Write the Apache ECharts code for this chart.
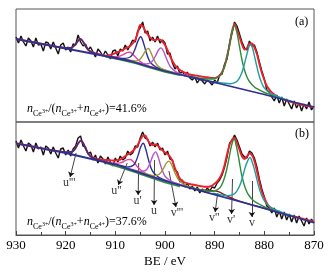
<!DOCTYPE html>
<html>
<head>
<meta charset="utf-8">
<script src="https://cdn.jsdelivr.net/npm/echarts@6/dist/echarts.min.js"></script>
<style>
  html, body { margin: 0; padding: 0; background: #fff; }
  #chart { width: 328px; height: 273px; }
</style>
</head>
<body>
<div id="chart"></div>
<script>
// binding energy grid of the measured spectra, 930 -> 870 eV, 0.5 eV step
const beGrid = []
for (let i = 0; i <= 120; i++) beGrid.push(930 - i * 0.5)

const xTicks = [930, 920, 910, 900, 890, 880, 870]

// panel (a): measured counts and fitted envelope (arbitrary units)
const dataA = [
  85, 79, 86, 80, 76, 84, 81, 75, 84, 77,
  78, 71, 80, 79, 73, 80, 74, 68, 77, 79,
  72, 75, 70, 78, 77, 87, 80, 76, 78, 72,
  75, 70, 65, 73, 70, 66, 71, 67, 63, 71,
  72, 66, 73, 71, 77, 72, 77, 82, 80, 91,
  94, 100, 89, 91, 81, 85, 80, 86, 79, 82,
  79, 68, 69, 59, 53, 56, 48, 51, 46, 50,
  44, 42, 45, 39, 43, 41, 38, 42, 40, 37,
  42, 39, 47, 48, 58, 63, 79, 89, 100, 96,
  88, 80, 74, 72, 81, 76, 77, 70, 60, 51,
  43, 32, 30, 25, 21, 27, 19, 25, 16, 23,
  18, 13, 21, 14, 19, 11, 18, 13, 20, 12,
  16
]
const fitA = [
  83, 82.5, 82, 81.6, 81.1, 80.6, 80.2, 79.7, 79.2, 78.7,
  78.3, 77.8, 77.3, 76.8, 76.4, 75.9, 75.4, 75, 74.8, 74.3,
  74.1, 74, 74.2, 75.3, 77.8, 81.2, 83, 80.3, 75.9, 72.4,
  70.6, 69.5, 68.7, 68, 67.4, 66.8, 66.3, 66.6, 67.2, 68,
  69, 70, 71, 72.2, 73.5, 74.7, 76, 78.5, 82, 89,
  97, 96, 91.5, 87.5, 84.5, 82.3, 81.8, 82.8, 82.5, 80.5,
  77, 72, 66, 61, 57, 54, 52, 50.5, 49.3, 48.3,
  47.5, 47, 46.6, 46.2, 45.8, 45.3, 45, 44.7, 44.3, 44,
  43.8, 44.8, 46.5, 50, 56, 66, 77, 91, 98, 92,
  85, 77.5, 72.5, 74, 78.5, 78.5, 74.5, 68, 58, 49,
  42, 36, 32.5, 29.5, 27.5, 25.8, 24.5, 23.3, 22.3, 21.4,
  20.6, 19.8, 19.1, 18.5, 17.9, 17.3, 16.8, 16.2, 15.7, 15.2,
  14.8
]
const bgA = [[930, 83], [920, 73.5], [910, 64], [907, 61], [905, 58], [903, 55], [900, 51],
  [895, 45], [890, 39.5], [885, 33.5], [880, 27.5], [875, 21], [870, 15]]
const bg2A = [[912, 65.3], [909, 62.2], [906, 58.8], [903, 54.2], [900, 50], [897, 46.8]]
const u3A = [[921, 74.8], [920, 74.1], [919, 74.2], [918.5, 75.3], [918, 77.8], [917.5, 81.2], [917, 83],
  [916.5, 80.3], [916, 75.9], [915.5, 72.4], [915, 70.4], [914, 68.4], [913, 67.2]]
const u2A = [[913, 67.1], [911, 65.6], [910, 65.2], [909, 66.1], [908.5, 67.2], [908, 68.5], [907.5, 69.6],
  [907.1, 69.7], [906.5, 67.8], [906, 65.2], [905.5, 62.7], [905, 60.6], [904, 57.5], [903, 55.5], [901, 52.6]]
const u1A = [[911, 65.4], [909, 63.9], [908, 63.6], [907, 65], [906.5, 67.9], [906, 73.2], [905.5, 80.4],
  [904.9, 85.3], [904.3, 78.6], [903.8, 69.9], [903.3, 63], [902.8, 58.7], [901.8, 55], [900.8, 53],
  [898.8, 50], [896, 46.4]]
const oliveA = [[908, 62.5], [907, 61.8], [906, 61.1], [905.5, 61.4], [905, 63], [904.5, 66.3], [904, 70.7],
  [903.4, 73.6], [902.8, 68.9], [902.3, 63], [901.8, 58.4], [901.3, 55.4], [900.8, 53.7], [899.8, 51.6],
  [898.8, 50.1], [897, 47.7]]
const uA = [[906.8, 61.2], [904.8, 58.7], [903.8, 58], [902.8, 59.7], [902.3, 62.7], [901.8, 67.2], [901.3, 72],
  [900.8, 74.1], [900.3, 70.7], [899.8, 64.6], [899.3, 58.8], [898.8, 54.5], [897.8, 50.2], [896.8, 48.2],
  [894.8, 45.3]]
const v1A = [[895, 45.7], [893, 43.8], [891, 43], [890, 43.5], [889, 46], [888.5, 49.5], [888, 55.5], [887.5, 65],
  [887, 77.5], [886.5, 90.5], [886, 96], [885.5, 89], [885, 75.5], [884.5, 62], [884, 52], [883.5, 45],
  [883, 40.5], [882, 35], [881, 32], [880, 29.5], [879, 27.8], [877, 24.4]]
const vA = [[890, 40.4], [888, 38.7], [887, 38.3], [886, 39.3], [885.5, 40.7], [885, 44.1], [884.5, 49.7],
  [884, 58.3], [883.5, 68], [883, 76.6], [882.75, 77], [882.5, 76], [882, 66.2], [881.5, 55.3], [881, 45.5],
  [880.5, 38.7], [880, 34.1], [879, 29.2], [878, 26.8], [876, 23.2], [874, 20.2]]

// panel (b)
const dataB = [
  94, 87, 95, 89, 84, 92, 90, 83, 92, 86,
  88, 80, 89, 87, 81, 88, 82, 77, 86, 87,
  80, 85, 79, 86, 89, 97, 99, 89, 88, 81,
  83, 75, 80, 72, 79, 76, 71, 78, 73, 69,
  77, 73, 79, 75, 77, 84, 80, 82, 89, 88,
  97, 103, 97, 96, 89, 93, 88, 92, 85, 87,
  80, 84, 76, 75, 65, 63, 53, 55, 48, 52,
  46, 49, 44, 48, 42, 46, 43, 47, 44, 48,
  47, 52, 55, 60, 68, 78, 92, 94, 100, 95,
  88, 81, 78, 77, 84, 82, 77, 68, 56, 46,
  38, 29, 27, 22, 27, 18, 24, 16, 23, 15,
  21, 13, 20, 12, 19, 14, 9, 17, 11, 16,
  12
]
const fitB = [
  91.7, 91.2, 90.7, 90.3, 89.8, 89.3, 88.8, 88.3, 87.8, 87.3,
  86.8, 86.4, 85.9, 85.4, 84.9, 84.5, 84.2, 83.9, 83.5, 83.1,
  82.8, 82.7, 83, 84, 87, 91.5, 94.3, 92.3, 86.7, 82,
  79, 77.6, 76.7, 76, 75.5, 75.2, 75, 74.8, 74.7, 74.5,
  74.5, 75, 75.5, 77, 79, 80.5, 82, 84, 86.5, 90,
  95, 99, 99.5, 95, 91.5, 90, 90.5, 89.5, 87, 84.5,
  82.5, 81, 78.5, 74, 67, 61, 56.5, 54, 52.5, 51.7,
  51, 50.5, 50, 49.5, 49, 48.6, 48.3, 48.3, 48.5, 49.5,
  51.5, 53.5, 57, 62, 70, 81, 90, 95.5, 97, 92,
  85, 78.5, 76, 78.5, 81.5, 80, 74, 64, 53, 43,
  37, 32, 28.5, 26.7, 25, 23.7, 22.5, 21.7, 21, 20.4,
  19.8, 19.2, 18.6, 18, 17.3, 16.6, 15.9, 15.2, 14.6, 14,
  13.3
]
const bgB = [[930, 91.7], [920, 82], [910, 70.5], [907, 65.5], [905, 62.2], [903, 58.9], [900, 54],
  [895, 47.2], [890, 40.4], [885, 33.5], [880, 26.6], [875, 19.5], [870, 12.3]]
const bg2B = [[912, 72], [909, 67.6], [906, 62.7], [903, 57.5], [900, 52.5], [897, 48.5]]
const u3B = [[921, 83.6], [920, 82.8], [919, 83], [918.5, 83.9], [918, 86.7], [917.5, 91.3], [916.9, 94.4],
  [916.5, 92.1], [916, 86.4], [915.5, 81.6], [915, 78.4], [914, 76], [913, 74.5], [911, 72]]
const u2B = [[913, 74.3], [911, 72.1], [910, 71.8], [909, 72.1], [908.5, 73], [908, 74.3], [907.5, 75.4],
  [907, 75.5], [906.5, 73.8], [906, 71], [905.5, 68], [905, 65.5], [904, 61.9], [903, 59.5], [901, 56]]
const u1B = [[910, 71], [908.5, 69], [907.4, 68], [906.4, 69.6], [905.9, 73.2], [905.4, 79.9], [904.9, 87.9],
  [904.4, 91.7], [903.9, 86.3], [903.4, 76.6], [902.9, 68.2], [902.4, 63], [901.4, 58.2], [900.4, 55.7],
  [898.4, 52.3], [896, 48.9]]
const uB = [[907.9, 67.4], [905.9, 64.6], [904.9, 63.6], [903.9, 64.7], [903.4, 67.7], [902.9, 73.2],
  [902.4, 79.9], [901.9, 83.1], [901.4, 78.3], [900.9, 70], [900.4, 62.8], [899.9, 58.2], [898.9, 54.1],
  [897.9, 52], [895.9, 48.8]]
const v3B = [[905.2, 63], [903.2, 60.2], [902.2, 59.4], [901.2, 60.7], [900.7, 63.4], [900.2, 67.5], [899.7, 72.1],
  [899.2, 73.9], [898.7, 70.7], [898.2, 64.6], [897.7, 59], [897.2, 54.9], [896.2, 50.6], [895.2, 48.5],
  [893.2, 45.2]]
const v2B = [[895, 47.6], [893, 45.3], [892, 44.7], [891, 44.4], [890, 44.1], [889.5, 43.7], [889, 42.8],
  [888, 40.3], [887, 37.8], [886, 35.7], [884, 32.4], [880, 26.7], [877, 22.4]]
const v1B = [[895.1, 47.9], [893.1, 45.6], [891.1, 43.7], [890.1, 44], [889.1, 46.5], [888.6, 50], [888.1, 56],
  [887.6, 65], [887.1, 77], [886.6, 89.5], [886.1, 95.7], [885.6, 88.1], [885.1, 75], [884.6, 61], [884.1, 51],
  [883.6, 44], [883.1, 39.5], [882.1, 34], [881.1, 31], [880.1, 28.5], [879.1, 26.3], [877.1, 23.1]]
const vB = [[890.4, 41.7], [888.4, 39.9], [887.4, 39.4], [886.4, 40.2], [885.9, 41.7], [885.4, 45], [884.9, 49.9],
  [884.4, 57.8], [883.9, 66.6], [883.4, 73.6], [882.9, 77.6], [882.4, 72.2], [881.9, 63.8], [881.4, 53.7],
  [880.9, 44.4], [880.4, 38.1], [879.9, 33.4], [878.9, 28.2], [877.9, 25.6], [875.9, 21.7], [873.9, 18.5]]

// peak assignments in panel (b); arrows run from the peak down to the label
const peakNames = ["u'''", "u''", "u'", "u", "v'''", "v''", "v'", "v"]
const labelBE = [919.3, 909.8, 905.5, 902.2, 897.6, 890.1, 886.7, 882.5]
const labelY = [52, 44, 34, 24, 22, 17, 15, 12]
const arrowLabelEnd = [[919.1, 58], [909.4, 50], [905.4, 40], [902.2, 30], [897.8, 28], [889.9, 23], [886.6, 21], [882.5, 18]]
const arrowPeakEnd = [[917.9, 82], [907.6, 72], [905.3, 72], [902.1, 75], [899.2, 64], [889.4, 42], [886.4, 56], [882.5, 54]]

const ratioA = '41.6%'
const ratioB = '37.6%'

const serif = '"Liberation Serif", "Times New Roman", serif'
const cData = '#111'
const cFit = '#f0202a'
const cNavy = '#2e3192'
const cPink = '#f0409a'
const cOlive = '#9a9a30'
const cPurple = '#b455cc'
const cGreen = '#2e8b3a'
const cTeal = '#1f9e9e'
const cMaroon = '#8b1c1c'

function onGrid(ys) {
  return beGrid.map((x, i) => [x, ys[i]])
}

function curve(data, color, width, idx, smooth) {
  return {
    type: 'line',
    xAxisIndex: idx,
    yAxisIndex: idx,
    data: data,
    symbol: 'none',
    smooth: smooth,
    silent: true,
    lineStyle: { color: color, width: width }
  }
}

function ratioText(val) {
  return '{n|n}{s|Ce}{p|3+}{t|/(}{n|n}{s|Ce}{p|3+}{t|+}{n|n}{s|Ce}{p|4+}{t|)=' + val + '}'
}

const rich = {
  n: { fontFamily: serif, fontStyle: 'italic', fontSize: 12, verticalAlign: 'bottom', padding: [0, 0, 3, 0], color: '#000' },
  t: { fontFamily: serif, fontSize: 12, verticalAlign: 'bottom', padding: [0, 0, 3, 0], color: '#000' },
  s: { fontFamily: serif, fontSize: 8, verticalAlign: 'bottom', padding: [0, 0, 0, 0], color: '#000' },
  p: { fontFamily: serif, fontSize: 6, verticalAlign: 'bottom', padding: [0, 0, 4, 0], color: '#000' }
}

function panelSeries(idx, data, fit, bg, bg2, peaks) {
  const list = [
    curve(onGrid(data), cData, 1.4, idx, false),
    curve(onGrid(fit), cFit, 1.9, idx, 0.3)
  ]
  peaks.forEach(p => list.push(curve(p[0], p[1], 1.4, idx, 0.4)))
  list.push(curve(bg2, cGreen, 1.6, idx, false))
  list.push(curve(bg, cNavy, 1.8, idx, false))
  return list
}

const chart = echarts.init(document.getElementById('chart'), null, { renderer: 'canvas' })

const series = [].concat(
  panelSeries(0, dataA, fitA, bgA, bg2A, [
    [u3A, cNavy], [u2A, cPink], [u1A, cNavy], [oliveA, cOlive], [uA, cPurple], [v1A, cGreen], [vA, cTeal]
  ]),
  panelSeries(1, dataB, fitB, bgB, bg2B, [
    [u3B, cNavy], [u2B, cPink], [u1B, cNavy], [uB, cPurple], [v3B, cOlive], [v2B, cMaroon], [v1B, cGreen], [vB, cTeal]
  ]),
  [{
    type: 'lines',
    coordinateSystem: 'cartesian2d',
    xAxisIndex: 1,
    yAxisIndex: 1,
    silent: true,
    symbol: ['arrow', 'none'],
    symbolSize: [5, 0],
    lineStyle: { color: '#111', width: 0.8, opacity: 1 },
    data: arrowLabelEnd.map((f, i) => ({ coords: [f, arrowPeakEnd[i]] }))
  }, {
    type: 'scatter',
    xAxisIndex: 1,
    yAxisIndex: 1,
    silent: true,
    symbolSize: 0,
    data: labelBE.map((x, i) => [x, labelY[i], peakNames[i]]),
    label: {
      show: true,
      position: 'inside',
      formatter: p => p.data[2],
      fontFamily: serif,
      fontSize: 12,
      color: '#000'
    }
  }]
)

chart.setOption({
  animation: false,
  backgroundColor: '#fff',
  grid: [
    { left: 16, top: 9, width: 298, height: 113, show: true, borderColor: '#555', borderWidth: 1 },
    { left: 16, top: 122, width: 298, height: 113, show: true, borderColor: '#555', borderWidth: 1 }
  ],
  xAxis: [{
    gridIndex: 0,
    type: 'value',
    min: 870,
    max: 930,
    inverse: true,
    show: false
  }, {
    gridIndex: 1,
    type: 'value',
    min: 870,
    max: 930,
    interval: 10,
    inverse: true,
    name: 'BE / eV',
    nameLocation: 'middle',
    nameGap: 20,
    nameTextStyle: { fontFamily: serif, fontSize: 13, color: '#000' },
    axisLine: { lineStyle: { color: '#555', width: 1 } },
    axisTick: { inside: true, length: 4, lineStyle: { color: '#444' } },
    minorTick: { show: true, splitNumber: 2, length: 3, lineStyle: { color: '#444' } },
    splitLine: { show: false },
    axisLabel: {
      fontFamily: serif,
      fontSize: 13,
      color: '#000',
      margin: 4,
      showMinLabel: true,
      showMaxLabel: true,
      customValues: xTicks
    }
  }],
  yAxis: [
    { gridIndex: 0, type: 'value', min: 0, max: 113, show: false },
    { gridIndex: 1, type: 'value', min: 0, max: 113, show: false }
  ],
  graphic: [
    { type: 'text', x: 27, y: 103, style: { text: ratioText(ratioA), rich: rich } },
    { type: 'text', x: 27, y: 216, style: { text: ratioText(ratioB), rich: rich } },
    { type: 'text', x: 295, y: 16, style: { text: '(a)', font: '12px ' + serif, fill: '#000' } },
    { type: 'text', x: 295, y: 128, style: { text: '(b)', font: '12px ' + serif, fill: '#000' } }
  ],
  series: series
})
</script>
</body>
</html>
